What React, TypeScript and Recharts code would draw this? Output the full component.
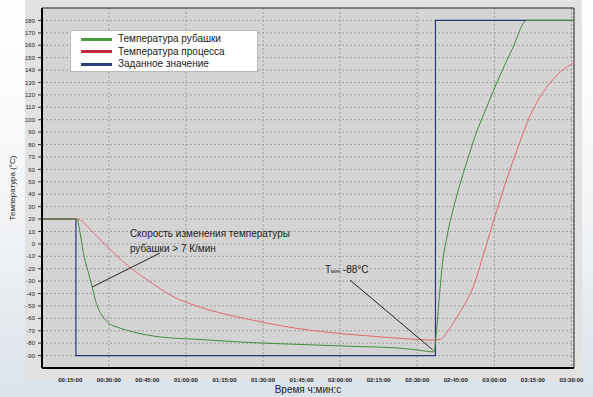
import { LineChart, Line, XAxis, YAxis, CartesianGrid, ReferenceLine, ReferenceDot } from "recharts";

// time in minutes since start, temperatures in °C
const jacketTime = [4, 17.7, 18.1, 20.1, 22.8, 25.5, 27.8, 30, 33.2, 39.5, 50, 65.5, 85, 104, 124, 143, 150, 156.5, 157.5, 158.5, 160, 161.5, 165, 169, 173, 177, 181, 187, 192.6, 211];
const jacketTemp = [20, 20, 17, -7, -29, -50, -59, -64, -67, -71, -75, -77, -79.5, -81, -82.5, -84, -85.5, -87, -70, -45, -13, 5, 36, 64, 89.5, 110, 130, 157, 180, 180];

const processTime = [4, 17.7, 19, 24, 30.5, 39.5, 45, 55, 65.5, 75, 85, 97, 110, 124, 136, 146, 156, 159, 162, 166.5, 171.8, 177, 182.2, 188.8, 195, 201.7, 206, 211];
const processTemp = [20, 20, 19, 9, -4.6, -21, -29, -42.5, -51, -56.5, -61, -66, -70, -73, -75, -76.5, -77.5, -77, -70, -55.5, -34.5, 0, 35.3, 75.6, 108, 129.6, 139, 146];

const setTime = [4, 17.2, 17.2, 157.1, 157.1, 211];
const setTemp = [20, 20, -90, -90, 180, 180];

const xTicks = [15, 30, 45, 60, 75, 90, 105, 120, 135, 150, 165, 180, 195, 210];
const yTicks = [-90, -80, -70, -60, -50, -40, -30, -20, -10, 0, 10, 20, 30, 40, 50, 60, 70, 80, 90, 100, 110, 120, 130, 140, 150, 160, 170, 180];

const seriesNames = ["Температура рубашки", "Температура процесса", "Заданное значение"];
const lineColors = ["#3f8c3a", "#e0676c", "#2d3678"];
const legendColors = ["#4c9a3f", "#c42a3c", "#2e3e78"];

const toRows = (t: number[], v: number[]) => t.map((x, i) => ({ t: x, v: v[i] }));
const jacket = toRows(jacketTime, jacketTemp);
const processRows = toRows(processTime, processTemp);
const setpoint = toRows(setTime, setTemp);

const pad = (n: number) => String(n).padStart(2, "0");
function fmtTime(m: number): string {
  return `${pad(Math.floor(m / 60))}:${pad(Math.round(m % 60))}:00`;
}

const FONT = "'Liberation Sans', Arial, sans-serif";

export default function App() {
  return (
    <div
      style={{
        position: "fixed",
        left: 0,
        top: 0,
        width: 593,
        height: 397,
        fontFamily: FONT,
        background: "linear-gradient(to bottom, #ffffff 0%, #f2f4f6 55%, #dbe2ea 100%)",
        overflow: "hidden",
      }}
    >
      <div style={{ position: "absolute", left: 25, top: 0, width: 557, height: 380, background: "#e2e2e2" }} />
      <div style={{ position: "absolute", left: 0, top: 0 }}>
        <LineChart width={593} height={397} margin={{ top: 8, right: 19, bottom: 0, left: 0 }}>
          <CartesianGrid fill="#d4d4d4" stroke="#9e9e9e" strokeDasharray="2 2" />
          <XAxis
            dataKey="t"
            type="number"
            domain={[4, 211]}
            ticks={xTicks}
            tickFormatter={fmtTime}
            allowDataOverflow
            height={29}
            tickLine={false}
            tickMargin={4}
            axisLine={{ stroke: "#000", strokeWidth: 2 }}
            tick={{ fontSize: 6, fontWeight: "bold", fill: "#222", fontFamily: FONT }}
            label={{ value: "Время ч:мин:с", position: "insideBottom", offset: 4, fontSize: 10, fill: "#222", fontFamily: FONT }}
          />
          <YAxis
            type="number"
            domain={[-100, 190]}
            ticks={yTicks}
            interval={0}
            allowDataOverflow
            width={42}
            tickSize={4}
            tickMargin={3}
            tickLine={{ stroke: "#333" }}
            axisLine={{ stroke: "#000", strokeWidth: 2 }}
            tick={{ fontSize: 6, fill: "#222", fontFamily: FONT }}
            label={{ value: "Температура (°C)", angle: -90, position: "insideLeft", offset: 12, fontSize: 8, fill: "#222", fontFamily: FONT, style: { textAnchor: "middle" } }}
          />
          <ReferenceLine y={190} stroke="#333" />
          <ReferenceLine x={211} stroke="#333" />
          <Line data={setpoint} dataKey="v" type="linear" stroke={lineColors[2]} strokeWidth={1.2} dot={false} isAnimationActive={false} />
          <Line data={processRows} dataKey="v" type="monotone" stroke={lineColors[1]} strokeWidth={1} dot={false} isAnimationActive={false} />
          <Line data={jacket} dataKey="v" type="monotone" stroke={lineColors[0]} strokeWidth={1} dot={false} isAnimationActive={false} />
          {/* annotation pointers */}
          <ReferenceLine segment={[{ x: 23.5, y: -34.8 }, { x: 49.9, y: -7.4 }]} stroke="#222" />
          <ReferenceLine segment={[{ x: 123.8, y: -29.1 }, { x: 156.1, y: -85.5 }]} stroke="#222" />
          <ReferenceDot
            x={38.2}
            y={7.9}
            r={0}
            shape={(p: any) => (
              <text x={p.cx} y={p.cy} fontSize={10} fill="#222" fontFamily={FONT} dominantBaseline="middle">
                <tspan x={p.cx}>Скорость изменения температуры</tspan>
                <tspan x={p.cx} dy={15}>рубашки &gt; 7 К/мин</tspan>
              </text>
            )}
          />
          <ReferenceDot
            x={114.1}
            y={-21.1}
            r={0}
            shape={(p: any) => (
              <text x={p.cx} y={p.cy} fontSize={10} fill="#222" fontFamily={FONT} dominantBaseline="middle">
                T<tspan fontSize={5} dy={2}>мин</tspan>
                <tspan dy={-2}> -88°C</tspan>
              </text>
            )}
          />
        </LineChart>
      </div>
      <div
        style={{
          position: "absolute",
          left: 70,
          top: 30,
          width: 186,
          height: 38,
          background: "#ffffff",
          border: "1px solid #b8b8b8",
          padding: "2px 0 0 0",
        }}
      >
        {seriesNames.map((name, i) => (
          <div key={name} style={{ display: "flex", alignItems: "center", height: 12.5 }}>
            <div style={{ marginLeft: 10, width: 31, height: 3, background: legendColors[i] }} />
            <span style={{ marginLeft: 6, fontSize: 10, color: "#222", lineHeight: "12px" }}>{name}</span>
          </div>
        ))}
      </div>
    </div>
  );
}
